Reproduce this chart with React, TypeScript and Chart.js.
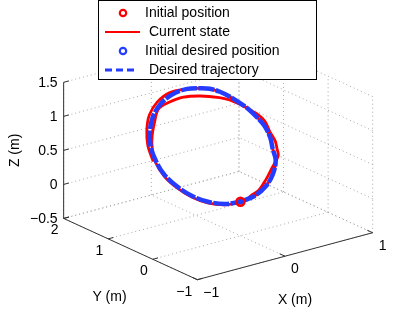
import React, { useEffect, useRef } from 'react';
import { Chart, registerables } from 'chart.js';

Chart.register(...registerables);

// ---- axis data ----
const xTicks = [-1, 0, 1];
const yTicks = [-1, 0, 1, 2];
const zTicks = [-0.5, 0, 0.5, 1, 1.5];
const xTickLabels = ['\u22121', '0', '1'];
const yTickLabels = ['\u22121', '0', '1', '2'];
const zTickLabels = ['\u22120.5', '0', '0.5', '1', '1.5'];
const xLim = [-1, 1];
const yLim = [-1, 2];
const zLim = [-0.5, 1.5];
const xTitle = 'X (m)';
const yTitle = 'Y (m)';
const zTitle = 'Z (m)';

// ---- series data (m) ----
const initialPosition = [0, 0, 0];
const initialDesiredPosition = [0, 0, 0];

const desiredX = [0, 0.17, 0.33, 0.46, 0.56, 0.59, 0.62, 0.62, 0.59, 0.54, 0.48, 0.41, 0.34, 0.25, 0.16, 0.01, -0.17, -0.33, -0.46, -0.56, -0.63, -0.65, -0.63, -0.56, -0.46, -0.33, -0.17, 0];
const desiredY = [0, 0.02, 0.08, 0.18, 0.31, 0.44, 0.55, 0.67, 0.76, 0.88, 0.97, 1.05, 1.13, 1.18, 1.21, 1.24, 1.22, 1.16, 1.06, 0.93, 0.78, 0.62, 0.46, 0.31, 0.18, 0.08, 0.02, 0];
const desiredZ = [0, 0.02, 0.09, 0.19, 0.32, 0.45, 0.56, 0.69, 0.79, 0.91, 1.0, 1.09, 1.16, 1.22, 1.25, 1.28, 1.26, 1.19, 1.09, 0.96, 0.81, 0.64, 0.47, 0.32, 0.19, 0.09, 0.02, 0];

const currentX = [0, 0.06, 0.13, 0.24, 0.37, 0.49, 0.56, 0.61, 0.63, 0.65, 0.64, 0.64, 0.6, 0.54, 0.47, 0.39, 0.3, 0.11, -0.06, -0.24, -0.37, -0.47, -0.57, -0.63,
  -0.66, -0.64, -0.57, -0.47, -0.34, -0.17, 0, 0.17, 0.33, 0.46, 0.56, 0.59, 0.62, 0.62, 0.59, 0.54, 0.48, 0.41, 0.34, 0.25, 0.16, 0.01, -0.18, -0.35, -0.49, -0.59, -0.66, -0.68];
const currentY = [0, 0, 0.03, 0.06, 0.15, 0.25, 0.3, 0.35, 0.42, 0.5, 0.6, 0.71, 0.8, 0.87, 0.95, 1.01, 1.06, 1.12, 1.16, 1.14, 1.11, 1.0, 0.86, 0.74,
  0.61, 0.45, 0.3, 0.17, 0.07, 0.01, 0, 0.02, 0.08, 0.18, 0.31, 0.44, 0.55, 0.67, 0.76, 0.88, 0.97, 1.05, 1.13, 1.18, 1.21, 1.24, 1.24, 1.18, 1.08, 0.94, 0.78, 0.62];
const currentZ = [0, 0, 0.03, 0.07, 0.16, 0.26, 0.32, 0.37, 0.44, 0.52, 0.63, 0.75, 0.84, 0.91, 0.99, 1.06, 1.11, 1.18, 1.21, 1.2, 1.16, 1.04, 0.91, 0.78,
  0.63, 0.46, 0.31, 0.18, 0.08, 0.01, 0, 0.02, 0.09, 0.19, 0.32, 0.45, 0.56, 0.69, 0.79, 0.91, 1.0, 1.09, 1.16, 1.22, 1.25, 1.28, 1.29, 1.23, 1.12, 0.98, 0.82, 0.64];

const legendLabels = ['Initial position', 'Current state', 'Initial desired position', 'Desired trajectory'];

// ---- view (camera) ----
const VIEW = { xu: 90.5, yu: -46, xv: 24.5, yv: 21.3, zv: 71 };
const U_RANGE = [-241.5, 173.5];
const V_RANGE = [-110.3, 203.7];

const RED = 'rgb(255,0,0)';
const BLUE = 'rgb(35,60,255)';
const FONT = '14px "Liberation Sans", Arial, Helvetica, sans-serif';

function proj(x: number, y: number, z: number) {
  return { x: VIEW.xu * x + VIEW.yu * y, y: VIEW.xv * x + VIEW.yv * y + VIEW.zv * z };
}

type P3 = [number, number, number];
const GAP = { x: NaN, y: NaN };

function segments(list: Array<[P3, P3]>) {
  const out: any[] = [];
  list.forEach(([a, b]) => {
    out.push(proj(a[0], a[1], a[2]), proj(b[0], b[1], b[2]), GAP);
  });
  return out;
}

function buildGrid() {
  const segs: Array<[P3, P3]> = [];
  const z0 = zLim[0];
  xTicks.forEach((x) => segs.push([[x, yLim[0], z0], [x, yLim[1], z0]]));
  yTicks.forEach((y) => segs.push([[xLim[0], y, z0], [xLim[1], y, z0]]));
  xTicks.forEach((x) => segs.push([[x, yLim[1], zLim[0]], [x, yLim[1], zLim[1]]]));
  zTicks.forEach((z) => segs.push([[xLim[0], yLim[1], z], [xLim[1], yLim[1], z]]));
  yTicks.forEach((y) => segs.push([[xLim[1], y, zLim[0]], [xLim[1], y, zLim[1]]]));
  zTicks.forEach((z) => segs.push([[xLim[1], yLim[0], z], [xLim[1], yLim[1], z]]));
  return segments(segs);
}

function buildAxes() {
  return segments([
    [[xLim[0], yLim[1], zLim[0]], [xLim[0], yLim[1], zLim[1]]],
    [[xLim[0], yLim[0], zLim[0]], [xLim[0], yLim[1], zLim[0]]],
    [[xLim[0], yLim[0], zLim[0]], [xLim[1], yLim[0], zLim[0]]],
  ]);
}

function buildTicks() {
  const segs: Array<[P3, P3]> = [];
  zTicks.forEach((z) => segs.push([[xLim[0], yLim[1], z], [xLim[0] + 0.06, yLim[1], z]]));
  yTicks.forEach((y) => segs.push([[xLim[0], y, zLim[0]], [xLim[0] + 0.06, y, zLim[0]]]));
  xTicks.forEach((x) => segs.push([[x, yLim[0], zLim[0]], [x, yLim[0] + 0.12, zLim[0]]]));
  return segments(segs);
}

function series(xs: number[], ys: number[], zs: number[]) {
  return xs.map((x, i) => proj(x, ys[i], zs[i]));
}

const overlayPlugin = {
  id: 'overlay3d',
  afterDraw(chart: any) {
    const ctx = chart.ctx as CanvasRenderingContext2D;
    const sx = chart.scales.x;
    const sy = chart.scales.y;
    const P = (x: number, y: number, z: number) => {
      const p = proj(x, y, z);
      return [sx.getPixelForValue(p.x), sy.getPixelForValue(p.y)];
    };
    ctx.save();
    ctx.fillStyle = '#000';
    ctx.font = FONT;
    ctx.textAlign = 'right';
    ctx.textBaseline = 'middle';
    zTicks.forEach((z, i) => {
      const [px, py] = P(xLim[0], yLim[1], z);
      ctx.fillText(zTickLabels[i], px - 6, py + 1);
    });
    yTicks.forEach((y, i) => {
      const [px, py] = P(xLim[0], y, zLim[0]);
      ctx.fillText(yTickLabels[i], px - 5, py + 12);
    });
    ctx.textAlign = 'left';
    xTicks.forEach((x, i) => {
      const [px, py] = P(x, yLim[0], zLim[0]);
      ctx.fillText(xTickLabels[i], px + 6, py + 13);
    });
    ctx.textAlign = 'center';
    {
      const [ax, ay] = P((xLim[0] + xLim[1]) / 2, yLim[0], zLim[0]);
      ctx.fillText(xTitle, ax + 10, ay + 44);
      const [bx, by] = P(xLim[0], (yLim[0] + yLim[1]) / 2, zLim[0]);
      ctx.fillText(yTitle, bx - 21, by + 48);
      const [cx, cy] = P(xLim[0], yLim[1], (zLim[0] + zLim[1]) / 2);
      ctx.save();
      ctx.translate(cx - 49, cy);
      ctx.rotate(-Math.PI / 2);
      ctx.fillText(zTitle, 0, 0);
      ctx.restore();
    }
    // legend
    const lx = 98.5, ly = 0.5, lw = 218, lh = 79;
    ctx.fillStyle = '#fff';
    ctx.fillRect(lx, ly, lw, lh);
    ctx.strokeStyle = '#000';
    ctx.lineWidth = 1;
    ctx.strokeRect(lx, ly, lw, lh);
    const rows = [13, 32, 51, 70];
    ctx.textAlign = 'left';
    ctx.fillStyle = '#000';
    ctx.beginPath();
    ctx.arc(123, rows[0], 3.2, 0, Math.PI * 2);
    ctx.strokeStyle = RED;
    ctx.lineWidth = 2.2;
    ctx.stroke();
    ctx.fillText(legendLabels[0], 145, rows[0]);
    ctx.beginPath();
    ctx.moveTo(105, rows[1]);
    ctx.lineTo(140, rows[1]);
    ctx.strokeStyle = RED;
    ctx.lineWidth = 2;
    ctx.stroke();
    ctx.fillText(legendLabels[1], 149, rows[1]);
    ctx.beginPath();
    ctx.arc(123, rows[2], 3.2, 0, Math.PI * 2);
    ctx.strokeStyle = BLUE;
    ctx.lineWidth = 2.2;
    ctx.stroke();
    ctx.fillText(legendLabels[2], 145, rows[2]);
    ctx.beginPath();
    ctx.setLineDash([7, 4]);
    ctx.moveTo(105, rows[3]);
    ctx.lineTo(136, rows[3]);
    ctx.strokeStyle = BLUE;
    ctx.lineWidth = 3;
    ctx.stroke();
    ctx.setLineDash([]);
    ctx.fillText(legendLabels[3], 149, rows[3]);
    ctx.restore();
  },
};

export default function App() {
  const ref = useRef<HTMLCanvasElement | null>(null);
  useEffect(() => {
    if (!ref.current) return;
    const ip = initialPosition;
    const idp = initialDesiredPosition;
    const chart = new Chart(ref.current, {
      type: 'scatter',
      data: {
        datasets: [
          {
            label: legendLabels[0],
            data: [proj(ip[0], ip[1], ip[2])],
            showLine: false,
            pointRadius: 4,
            pointBorderWidth: 2.5,
            pointBorderColor: RED,
            pointBackgroundColor: 'rgba(0,0,0,0)',
          },
          {
            label: legendLabels[2],
            data: [proj(idp[0], idp[1], idp[2])],
            showLine: false,
            pointRadius: 2,
            pointBorderWidth: 2,
            pointBorderColor: BLUE,
            pointBackgroundColor: BLUE,
          },
          {
            label: legendLabels[3],
            data: series(desiredX, desiredY, desiredZ),
            showLine: true,
            borderColor: BLUE,
            borderWidth: 4.5,
            borderDash: [16, 1.5],
            pointRadius: 0,
            tension: 0.35,
          },
          {
            label: legendLabels[1],
            data: series(currentX, currentY, currentZ),
            showLine: true,
            borderColor: RED,
            borderWidth: 2.8,
            pointRadius: 0,
            tension: 0.35,
          },
          {
            label: 'ticks',
            data: buildTicks(),
            showLine: true,
            borderColor: '#333',
            borderWidth: 1,
            pointRadius: 0,
            spanGaps: false,
          },
          {
            label: 'axes',
            data: buildAxes(),
            showLine: true,
            borderColor: '#333',
            borderWidth: 1,
            pointRadius: 0,
            spanGaps: false,
          },
          {
            label: 'grid',
            data: buildGrid(),
            showLine: true,
            borderColor: '#a8a8a8',
            borderWidth: 1,
            borderDash: [1, 3],
            pointRadius: 0,
            spanGaps: false,
          },
        ],
      },
      options: {
        animation: false,
        responsive: false,
        maintainAspectRatio: false,
        devicePixelRatio: 1,
        events: [],
        layout: { padding: 0 },
        plugins: { legend: { display: false }, tooltip: { enabled: false } },
        scales: {
          x: { type: 'linear', min: U_RANGE[0], max: U_RANGE[1], display: false },
          y: { type: 'linear', min: V_RANGE[0], max: V_RANGE[1], display: false },
        },
      },
      plugins: [overlayPlugin],
    } as any);
    return () => chart.destroy();
  }, []);
  return (
    <div style={{ position: 'fixed', left: 0, top: 0, width: 415, height: 314, background: '#fff' }}>
      <canvas ref={ref} width={415} height={314} style={{ width: 415, height: 314, display: 'block' }} />
    </div>
  );
}
